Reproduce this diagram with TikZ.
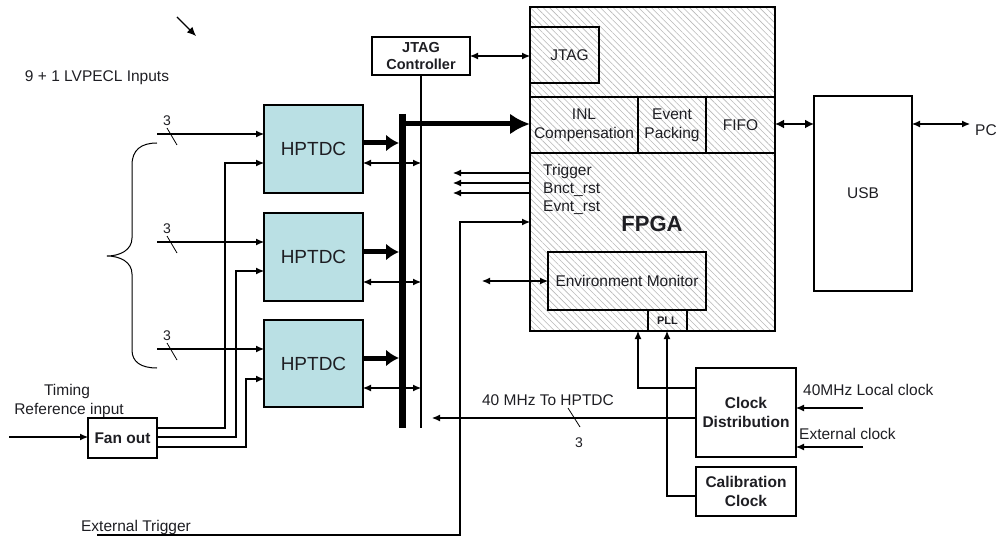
\documentclass[tikz,border=0pt]{standalone}
\usepackage{fontspec}
\setmainfont{Liberation Sans}
\usetikzlibrary{arrows.meta,patterns.meta,calc}
\definecolor{tdccol}{RGB}{186,224,228}
\definecolor{txtcol}{RGB}{30,30,35}
\definecolor{hatch}{RGB}{185,185,185}
\newcommand\fsN{\fontsize{15.5}{19}\selectfont}
\newcommand\fsH{\fontsize{19}{22}\selectfont}
\newcommand\fsF{\fontsize{22}{26}\selectfont\bfseries}
\newcommand\fsS{\fontsize{11}{13}\selectfont\bfseries}
\newcommand\fsT{\fontsize{14}{16}\selectfont}
\begin{document}
\begin{tikzpicture}[x=1pt,y=-1pt,
  every node/.style={text=txtcol},
  box/.style={draw, line width=1.1pt, inner sep=0pt, outer sep=0pt, align=center, font=\fsN},
  bbox/.style={box, font=\fsN\bfseries},
  tdc/.style={box, fill=tdccol, minimum width=99pt, minimum height=88pt, font=\fsH},
  txt/.style={inner sep=0pt, font=\fsN},
  ln/.style={line width=1.1pt},
  arr/.style={ln, -{Latex[length=8pt,width=7pt]}},
  biarr/.style={ln, {Latex[length=8pt,width=7pt]}-{Latex[length=8pt,width=7pt]}},
  fat/.style={line width=5pt, -{Latex[length=13pt,width=17pt]}},
  fatter/.style={line width=5pt, -{Latex[length=20pt,width=21pt]}},
  mid/.style={line width=2.4pt, {Latex[length=9pt,width=9pt]}-{Latex[length=9pt,width=9pt]}},
  slash/.style={line width=0.8pt}
]
\useasboundingbox (0,0) rectangle (1002,540);

% FPGA
\node[box, minimum width=245pt, minimum height=324pt, preaction={fill=white},
  pattern={Lines[angle=-45,distance=4.5pt,line width=0.6pt]}, pattern color=hatch] (fpga) at (652.5,169) {};
\node[box, minimum width=69pt, minimum height=56pt] (jtag) at (564.5,55) {\hspace{10pt}JTAG};
\node[box, minimum width=108pt, minimum height=56pt] (inl) at (584,125) {INL\\Compensation};
\node[box, minimum width=68pt, minimum height=56pt] (evt) at (672,125) {Event\\Packing};
\node[box, minimum width=69pt, minimum height=56pt] (fifo) at (740.5,125) {FIFO};
\draw[ln] (inl.north west) -- (fpga.east |- inl.north);
\draw[ln] (inl.south west) -- (fpga.east |- inl.south);
\node[box, minimum width=158pt, minimum height=58pt] (env) at (627,281) {Environment Monitor};
\node[box, minimum width=39pt, minimum height=21pt, font=\fsS] (pll) at (667.5,320.5) {PLL};
\node[txt, font=\fsF] (fpgalab) at (652,224) {FPGA};
\node[txt, anchor=west] (ltrig) at (543,171) {Trigger};
\node[txt, anchor=west] (lbnct) at (543,190) {Bnct\_rst};
\node[txt, anchor=west] (levnt) at (543,208) {Evnt\_rst};

% other boxes
\node[bbox, minimum width=98pt, minimum height=38pt, font=\fontsize{14.5}{17}\selectfont\bfseries] (jtagc) at (421,56) {JTAG\\Controller};
\node[tdc] (h1) at (313.5,149) {HPTDC};
\node[tdc] (h2) at (313.5,257) {HPTDC};
\node[tdc, minimum height=87pt] (h3) at (313.5,363.5) {HPTDC};
\node[bbox, minimum width=69pt, minimum height=40pt] (fan) at (122.5,438) {Fan out};
\node[box, minimum width=98pt, minimum height=195pt] (usb) at (863,193.5) {USB};
\node[bbox, minimum width=100pt, minimum height=89pt] (clk) at (746,412.5) {Clock\\Distribution};
\node[bbox, minimum width=100pt, minimum height=49pt] (cal) at (746,491.5) {Calibration\\Clock};

% texts
\node[txt] (tin) at (97,78) {9 + 1 LVPECL Inputs};
\node[txt] (ttim) at (67,391) {Timing};
\node[txt] (tref) at (69,410) {Reference input};
\node[txt] (text) at (136,527) {External Trigger};
\node[txt, anchor=west] (tpc) at (975,130) {PC};
\node[txt] (t40) at (548,400) {40 MHz To HPTDC};
\node[txt, font=\fsT] (t40n) at (579,443) {3};
\node[txt, anchor=west] (tloc) at (803,390) {40MHz Local clock};
\node[txt, anchor=west] (textc) at (799,434) {External clock};

% top small arrow
\coordinate (sa1) at (177,17);
\coordinate (sa2) at (196,36);
\draw[ln, -{Latex[length=9pt,width=8pt]}] (sa1) -- (sa2);

% brace
\draw[line width=1pt] (157,143) .. controls (141,143) and (132,150) .. (132,165) -- (132,238)
  .. controls (132,250) and (120,256) .. (107,256)
  .. controls (120,256) and (132,262) .. (132,274) -- (132,350)
  .. controls (132,362) and (141,368) .. (157,368);

% inputs with bus width marks
\foreach \h/\y in {h1/134, h2/242, h3/349} {
  \coordinate (in\h) at (157,\y);
  \draw[arr] (in\h) -- (in\h -| \h.west);
  \draw[slash] (167,\y-6) -- (177,\y+11);
  \node[txt, font=\fsT] at (167,\y-13) {3};
}

% bus
\coordinate (bustop) at (402.5,114);
\coordinate (busbot) at (402.5,428);
\draw[line width=7pt] (bustop) -- (busbot);
\coordinate (thinbot) at (421,428);
\draw[ln] (jtagc.south) -- (thinbot);
\coordinate (busarr) at (406,124);
\draw[fatter] (busarr) -- (busarr -| fpga.west);
\draw[biarr] (jtagc.east) -- (jtagc.east -| jtag.west);

% HPTDC outputs
\foreach \h/\ya/\yb in {h1/143/163, h2/252/282, h3/358/388} {
  \coordinate (fo\h) at (399,\ya);
  \draw[fat] (fo\h -| \h.east) -- (fo\h);
  \coordinate (bo\h) at (421,\yb);
  \draw[biarr] (bo\h -| \h.east) -- (bo\h);
}

% fan out
\coordinate (tin0) at (9,437);
\draw[arr] (tin0) -- (tin0 -| fan.west);
\coordinate (fa1) at (225,428); \coordinate (fa2) at (236,437); \coordinate (fa3) at (246,447);
\coordinate (fb1) at (225,163); \coordinate (fb2) at (236,271); \coordinate (fb3) at (246,379);
\draw[arr] (fa1 -| fan.east) -- (fa1) -- (fb1) -- (fb1 -| h1.west);
\draw[arr] (fa2 -| fan.east) -- (fa2) -- (fb2) -- (fb2 -| h2.west);
\draw[arr] (fa3 -| fan.east) -- (fa3) -- (fb3) -- (fb3 -| h3.west);

% trigger signals
\foreach \y in {173,183,193} {
  \coordinate (tg\y) at (453,\y);
  \draw[arr] (tg\y -| fpga.west) -- (tg\y);
}
% external trigger
\coordinate (et0) at (97,535);
\coordinate (et1) at (460,535);
\coordinate (et2) at (460,222);
\draw[arr] (et0) -- (et1) -- (et2) -- (et2 -| fpga.west);
% env monitor
\coordinate (em) at (482,281);
\draw[biarr] (em) -- (em -| env.west);

% USB
\coordinate (usbl) at (775,124);
\draw[mid] (usbl) -- (usbl -| usb.west);
\coordinate (pcr) at (970,124);
\draw[biarr] (pcr -| usb.east) -- (pcr);

% clocks
\coordinate (ck1) at (638,388);
\draw[arr] (ck1 -| clk.west) -- (ck1) -- (ck1 |- fpga.south);
\coordinate (ck2) at (667,496);
\draw[arr] (ck2 -| cal.west) -- (ck2) -- (ck2 |- pll.south);
\coordinate (ck3) at (432,418);
\draw[arr] (ck3 -| clk.west) -- (ck3);
\draw[slash] (568,408) -- (580,427);
\coordinate (lc1) at (863,408);
\coordinate (lc2) at (863,447);
\draw[arr] (lc1) -- (lc1 -| clk.east);
\draw[arr] (lc2) -- (lc2 -| clk.east);
\end{tikzpicture}
\end{document}
